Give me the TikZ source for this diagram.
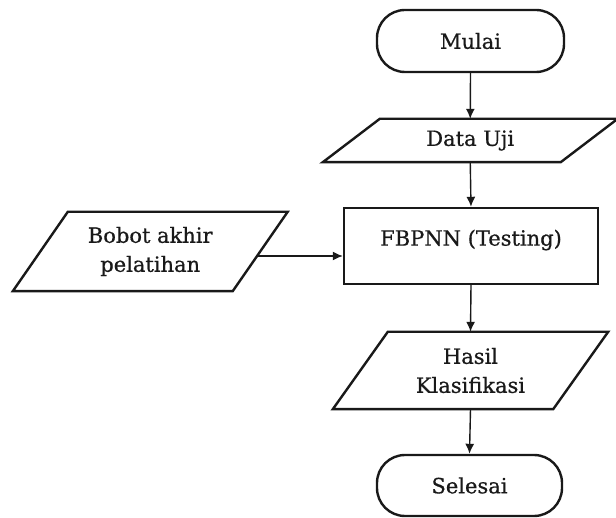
\documentclass[tikz,border=0pt]{standalone}
\usepackage{fontspec}
\setmainfont{DejaVu Serif}[FakeBold=0.7]
\usetikzlibrary{arrows.meta}
\begin{document}
\begin{tikzpicture}[x=1pt,y=-1pt,
  every node/.style={font=\fontsize{21}{29}\selectfont, text=black!90, align=center, inner sep=0pt},
  shapeline/.style={draw=black!90, line width=2.4pt, line join=miter},
  terminal/.style={shapeline, rounded corners=28pt},
  procbox/.style={shapeline},
  iobox/.style={draw=none},
  flow/.style={draw=black!90, line width=1.4pt, -{Latex[length=10pt,width=9pt]}}
]
\useasboundingbox (0,0) rectangle (616,518);

% terminals
\node[terminal, minimum width=187pt, minimum height=62pt] (mulai) at (470.5,41) {Mulai};
\node[terminal, minimum width=185pt, minimum height=61pt] (selesai) at (469.5,485.5) {Selesai};

% process box with its caption set in the upper part
\node[procbox, minimum width=254pt, minimum height=76pt] (fbpnn) at (471,246) {};
\node (fbpnn-text) at (471,240) {FBPNN (Testing)};

% input/output nodes (parallelograms drawn below)
\node[iobox, minimum width=237.5pt, minimum height=43pt] (data) at (470.25,140.5) {Data Uji};
\node[iobox, minimum width=219.5pt, minimum height=79pt] (bobot) at (150.25,251.5) {Bobot akhir\\pelatihan};
\node[iobox, minimum width=220pt, minimum height=77pt] (hasil) at (470.5,370.5) {Hasil\\Klasifikasi};

\foreach \n/\s in {data/57, bobot/55, hasil/55}
  \draw[shapeline]
    ([xshift={\s*0.5pt}]\n.north west) -- ([xshift={\s*0.5pt}]\n.north east)
    -- ([xshift={-\s*0.5pt}]\n.south east) -- ([xshift={-\s*0.5pt}]\n.south west) -- cycle;

% point on the slanted right edge of the weights box
\coordinate (bobot-out) at (258,256);

% connectors
\draw[flow] (mulai.south) -- (data.north);
\draw[flow] (data.south) -- (fbpnn.north);
\draw[flow] (bobot-out) -- (fbpnn.west |- bobot-out);
\draw[flow] (fbpnn.south) -- (hasil.north);
\draw[flow] (hasil.south) -- (selesai.north);
\end{tikzpicture}
\end{document}
